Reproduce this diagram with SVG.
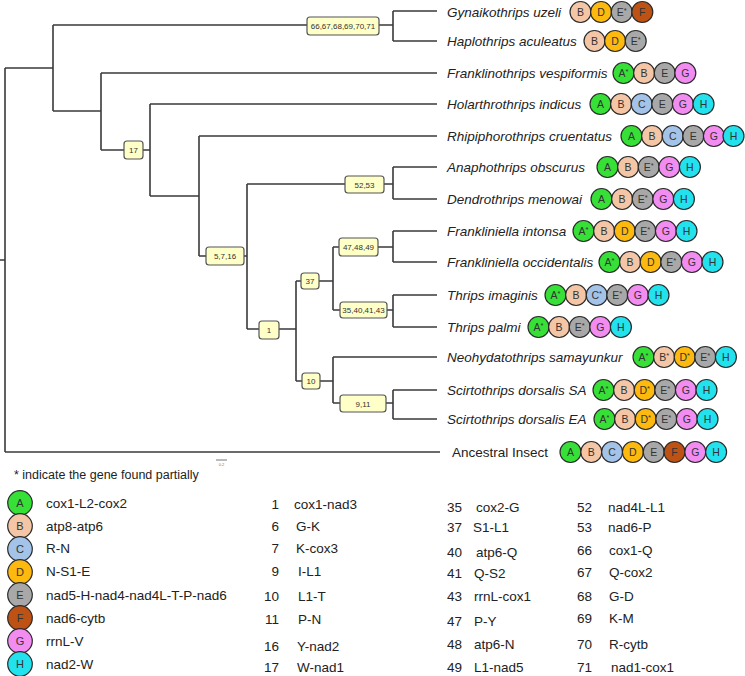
<svg xmlns="http://www.w3.org/2000/svg" width="745" height="676" viewBox="0 0 745 676">
<style>
.br{fill:none;stroke:#3a3a3a;stroke-width:1.6}
.bx{fill:#ffffc8;stroke:#555;stroke-width:1.2}
.bt{font-family:"Liberation Sans",Arial,sans-serif;font-size:8px;fill:#333;text-anchor:middle}
.sp{font-family:"Liberation Sans",Arial,sans-serif;font-size:13.5px;font-style:italic;fill:#222}
.spn{font-family:"Liberation Sans",Arial,sans-serif;font-size:13.5px;fill:#222}
.c{stroke:#2a2a2a;stroke-width:1.2}
.l{font-family:"Liberation Sans",Arial,sans-serif;font-size:10.5px;fill:#333;text-anchor:middle}
.ll{font-family:"Liberation Sans",Arial,sans-serif;font-size:11px;fill:#333;text-anchor:middle}
.st{font-size:7.5px}
.A{fill:#36e036}.B{fill:#f4c6a6}.C{fill:#a3c3e8}.D{fill:#fdb90d}.E{fill:#a8a8a8}.F{fill:#bd5214}.G{fill:#f28cf0}.H{fill:#22e2ee}
.lg{font-family:"Liberation Sans",Arial,sans-serif;font-size:13.5px;fill:#222}
.num{font-family:"Liberation Sans",Arial,sans-serif;font-size:13.5px;fill:#222;text-anchor:end}
</style>
<g id="connectors">
<path class="br" d="M0,260H5M5,68V452M5,68H53M53,25V111M53,25H307M379,25H393M393,11V41M393,11H437M393,41H437"/>
<path class="br" d="M53,111H101M101,73V150M101,73H437M101,150H124M143,150H150M150,104V196M150,104H437M150,196H199M199,136V256M199,136H437M199,256H206M244,256H247M247,184V329"/>
<path class="br" d="M247,184H345M384,184H393M393,167V199M393,167H437M393,199H437"/>
<path class="br" d="M247,329H259M279,329H296M296,281V381M296,281H301M319,281H333M333,247V310M333,247H339M378,247H393M393,231V262M393,231H437M393,262H437M333,310H340M387,310H393M393,295V327M393,295H437M393,327H437"/>
<path class="br" d="M296,381H302M320,381H333M333,357V403M333,357H437M333,403H340M386,403H393M393,390V419M393,390H437M393,419H437"/>
<path class="br" d="M5,452H440"/>
<path d="M216,460H227" stroke="#777" stroke-width="1"/>
<text x="221.5" y="466" font-family="Liberation Sans,sans-serif" font-size="4" fill="#777" text-anchor="middle">0.2</text>
</g>
<g id="n-66"><rect class="bx" x="307" y="17" width="72" height="18" rx="3"/><text class="bt" x="343" y="29">66,67,68,69,70,71</text></g>
<g id="n-17"><rect class="bx" x="124" y="141" width="19" height="18" rx="3"/><text class="bt" x="133.5" y="153">17</text></g>
<g id="n-5"><rect class="bx" x="206" y="247" width="38" height="18" rx="3"/><text class="bt" x="225" y="259">5,7,16</text></g>
<g id="n-52"><rect class="bx" x="345" y="176" width="39" height="17" rx="3"/><text class="bt" x="364.5" y="187.5">52,53</text></g>
<g id="n-1"><rect class="bx" x="259" y="321" width="20" height="18" rx="3"/><text class="bt" x="269" y="333">1</text></g>
<g id="n-37"><rect class="bx" x="301" y="273" width="18" height="16" rx="3"/><text class="bt" x="310" y="284">37</text></g>
<g id="n-47"><rect class="bx" x="339" y="238" width="39" height="18" rx="3"/><text class="bt" x="358.5" y="250">47,48,49</text></g>
<g id="n-35"><rect class="bx" x="340" y="302" width="47" height="16" rx="3"/><text class="bt" x="363.5" y="313">35,40,41,43</text></g>
<g id="n-10"><rect class="bx" x="302" y="373" width="18" height="16" rx="3"/><text class="bt" x="311" y="384">10</text></g>
<g id="n-9"><rect class="bx" x="340" y="395" width="46" height="17" rx="3"/><text class="bt" x="363" y="406.5">9,11</text></g>

<g id="sp-gynaikothrips"><text class="sp" x="447" y="16.5">Gynaikothrips uzeli</text>
<circle class="c B" cx="580.5" cy="12" r="10.5"/><text class="l" x="580.5" y="15.8">B</text>
<circle class="c D" cx="601.1" cy="12" r="10.5"/><text class="l" x="601.1" y="15.8">D</text>
<circle class="c E" cx="621.7" cy="12" r="10.5"/><text class="l" x="621.7" y="15.8">E<tspan class="st" dy="-3">*</tspan></text>
<circle class="c F" cx="642.3" cy="12" r="10.5"/><text class="l" x="642.3" y="15.8">F</text></g>

<g id="sp-haplothrips"><text class="sp" x="447" y="45.5">Haplothrips aculeatus</text>
<circle class="c B" cx="594.5" cy="41" r="10.5"/><text class="l" x="594.5" y="44.8">B</text>
<circle class="c D" cx="615.1" cy="41" r="10.5"/><text class="l" x="615.1" y="44.8">D</text>
<circle class="c E" cx="635.7" cy="41" r="10.5"/><text class="l" x="635.7" y="44.8">E<tspan class="st" dy="-3">*</tspan></text></g>

<g id="sp-franklinothrips"><text class="sp" x="447" y="77.5">Franklinothrips vespiformis</text>
<circle class="c A" cx="623.5" cy="73" r="10.5"/><text class="l" x="623.5" y="76.8">A<tspan class="st" dy="-3">*</tspan></text>
<circle class="c B" cx="644.1" cy="73" r="10.5"/><text class="l" x="644.1" y="76.8">B</text>
<circle class="c E" cx="664.7" cy="73" r="10.5"/><text class="l" x="664.7" y="76.8">E</text>
<circle class="c G" cx="685.3" cy="73" r="10.5"/><text class="l" x="685.3" y="76.8">G</text></g>

<g id="sp-holarthrothrips"><text class="sp" x="447" y="108.5">Holarthrothrips indicus</text>
<circle class="c A" cx="600.5" cy="104" r="10.5"/><text class="l" x="600.5" y="107.8">A</text>
<circle class="c B" cx="621.1" cy="104" r="10.5"/><text class="l" x="621.1" y="107.8">B</text>
<circle class="c C" cx="641.7" cy="104" r="10.5"/><text class="l" x="641.7" y="107.8">C</text>
<circle class="c E" cx="662.3" cy="104" r="10.5"/><text class="l" x="662.3" y="107.8">E</text>
<circle class="c G" cx="682.9" cy="104" r="10.5"/><text class="l" x="682.9" y="107.8">G</text>
<circle class="c H" cx="703.5" cy="104" r="10.5"/><text class="l" x="703.5" y="107.8">H</text></g>

<g id="sp-rhipiphorothrips"><text class="sp" x="447" y="140.5">Rhipiphorothrips cruentatus</text>
<circle class="c A" cx="631.5" cy="136" r="10.5"/><text class="l" x="631.5" y="139.8">A</text>
<circle class="c B" cx="652.1" cy="136" r="10.5"/><text class="l" x="652.1" y="139.8">B</text>
<circle class="c C" cx="672.7" cy="136" r="10.5"/><text class="l" x="672.7" y="139.8">C</text>
<circle class="c E" cx="693.3" cy="136" r="10.5"/><text class="l" x="693.3" y="139.8">E</text>
<circle class="c G" cx="713.9" cy="136" r="10.5"/><text class="l" x="713.9" y="139.8">G</text>
<circle class="c H" cx="733.5" cy="136" r="10.5"/><text class="l" x="733.5" y="139.8">H</text></g>

<g id="sp-anaphothrips"><text class="sp" x="447" y="171.5">Anaphothrips obscurus</text>
<circle class="c A" cx="607.5" cy="167" r="10.5"/><text class="l" x="607.5" y="170.8">A</text>
<circle class="c B" cx="628.1" cy="167" r="10.5"/><text class="l" x="628.1" y="170.8">B</text>
<circle class="c E" cx="648.7" cy="167" r="10.5"/><text class="l" x="648.7" y="170.8">E<tspan class="st" dy="-3">*</tspan></text>
<circle class="c G" cx="669.3" cy="167" r="10.5"/><text class="l" x="669.3" y="170.8">G</text>
<circle class="c H" cx="689.9" cy="167" r="10.5"/><text class="l" x="689.9" y="170.8">H</text></g>

<g id="sp-dendrothrips"><text class="sp" x="447" y="203.5">Dendrothrips menowai</text>
<circle class="c A" cx="601.5" cy="199" r="10.5"/><text class="l" x="601.5" y="202.8">A</text>
<circle class="c B" cx="622.1" cy="199" r="10.5"/><text class="l" x="622.1" y="202.8">B</text>
<circle class="c E" cx="642.7" cy="199" r="10.5"/><text class="l" x="642.7" y="202.8">E<tspan class="st" dy="-3">*</tspan></text>
<circle class="c G" cx="663.3" cy="199" r="10.5"/><text class="l" x="663.3" y="202.8">G</text>
<circle class="c H" cx="683.9" cy="199" r="10.5"/><text class="l" x="683.9" y="202.8">H</text></g>

<g id="sp-f-intonsa"><text class="sp" x="447" y="235.5">Frankliniella intonsa</text>
<circle class="c A" cx="583.5" cy="231" r="10.5"/><text class="l" x="583.5" y="234.8">A<tspan class="st" dy="-3">*</tspan></text>
<circle class="c B" cx="604.1" cy="231" r="10.5"/><text class="l" x="604.1" y="234.8">B</text>
<circle class="c D" cx="624.7" cy="231" r="10.5"/><text class="l" x="624.7" y="234.8">D</text>
<circle class="c E" cx="645.3" cy="231" r="10.5"/><text class="l" x="645.3" y="234.8">E<tspan class="st" dy="-3">*</tspan></text>
<circle class="c G" cx="665.9" cy="231" r="10.5"/><text class="l" x="665.9" y="234.8">G</text>
<circle class="c H" cx="686.5" cy="231" r="10.5"/><text class="l" x="686.5" y="234.8">H</text></g>

<g id="sp-f-occidentalis"><text class="sp" x="447" y="266.5">Frankliniella occidentalis</text>
<circle class="c A" cx="609.5" cy="262" r="10.5"/><text class="l" x="609.5" y="265.8">A<tspan class="st" dy="-3">*</tspan></text>
<circle class="c B" cx="630.1" cy="262" r="10.5"/><text class="l" x="630.1" y="265.8">B</text>
<circle class="c D" cx="650.7" cy="262" r="10.5"/><text class="l" x="650.7" y="265.8">D</text>
<circle class="c E" cx="671.3" cy="262" r="10.5"/><text class="l" x="671.3" y="265.8">E<tspan class="st" dy="-3">*</tspan></text>
<circle class="c G" cx="691.9" cy="262" r="10.5"/><text class="l" x="691.9" y="265.8">G</text>
<circle class="c H" cx="712.5" cy="262" r="10.5"/><text class="l" x="712.5" y="265.8">H</text></g>

<g id="sp-t-imaginis"><text class="sp" x="447" y="299.5">Thrips imaginis</text>
<circle class="c A" cx="555.5" cy="295" r="10.5"/><text class="l" x="555.5" y="298.8">A<tspan class="st" dy="-3">*</tspan></text>
<circle class="c B" cx="576.1" cy="295" r="10.5"/><text class="l" x="576.1" y="298.8">B</text>
<circle class="c C" cx="596.7" cy="295" r="10.5"/><text class="l" x="596.7" y="298.8">C<tspan class="st" dy="-3">*</tspan></text>
<circle class="c E" cx="617.3" cy="295" r="10.5"/><text class="l" x="617.3" y="298.8">E<tspan class="st" dy="-3">*</tspan></text>
<circle class="c G" cx="637.9" cy="295" r="10.5"/><text class="l" x="637.9" y="298.8">G</text>
<circle class="c H" cx="658.5" cy="295" r="10.5"/><text class="l" x="658.5" y="298.8">H</text></g>

<g id="sp-t-palmi"><text class="sp" x="447" y="331.5">Thrips palmi</text>
<circle class="c A" cx="538.5" cy="327" r="10.5"/><text class="l" x="538.5" y="330.8">A<tspan class="st" dy="-3">*</tspan></text>
<circle class="c B" cx="559.1" cy="327" r="10.5"/><text class="l" x="559.1" y="330.8">B</text>
<circle class="c E" cx="579.7" cy="327" r="10.5"/><text class="l" x="579.7" y="330.8">E<tspan class="st" dy="-3">*</tspan></text>
<circle class="c G" cx="600.3" cy="327" r="10.5"/><text class="l" x="600.3" y="330.8">G</text>
<circle class="c H" cx="620.9" cy="327" r="10.5"/><text class="l" x="620.9" y="330.8">H</text></g>

<g id="sp-neohydatothrips"><text class="sp" x="447" y="361.5">Neohydatothrips samayunkur</text>
<circle class="c A" cx="643.5" cy="357" r="10.5"/><text class="l" x="643.5" y="360.8">A<tspan class="st" dy="-3">*</tspan></text>
<circle class="c B" cx="664.1" cy="357" r="10.5"/><text class="l" x="664.1" y="360.8">B<tspan class="st" dy="-3">*</tspan></text>
<circle class="c D" cx="684.7" cy="357" r="10.5"/><text class="l" x="684.7" y="360.8">D<tspan class="st" dy="-3">*</tspan></text>
<circle class="c E" cx="705.3" cy="357" r="10.5"/><text class="l" x="705.3" y="360.8">E<tspan class="st" dy="-3">*</tspan></text>
<circle class="c H" cx="725.9" cy="357" r="10.5"/><text class="l" x="725.9" y="360.8">H</text></g>

<g id="sp-s-dorsalis-sa"><text class="sp" x="447" y="394.5">Scirtothrips dorsalis SA</text>
<circle class="c A" cx="603.5" cy="390" r="10.5"/><text class="l" x="603.5" y="393.8">A<tspan class="st" dy="-3">*</tspan></text>
<circle class="c B" cx="624.1" cy="390" r="10.5"/><text class="l" x="624.1" y="393.8">B</text>
<circle class="c D" cx="644.7" cy="390" r="10.5"/><text class="l" x="644.7" y="393.8">D<tspan class="st" dy="-3">*</tspan></text>
<circle class="c E" cx="665.3" cy="390" r="10.5"/><text class="l" x="665.3" y="393.8">E<tspan class="st" dy="-3">*</tspan></text>
<circle class="c G" cx="685.9" cy="390" r="10.5"/><text class="l" x="685.9" y="393.8">G</text>
<circle class="c H" cx="706.5" cy="390" r="10.5"/><text class="l" x="706.5" y="393.8">H</text></g>

<g id="sp-s-dorsalis-ea"><text class="sp" x="447" y="423.5">Scirtothrips dorsalis EA</text>
<circle class="c A" cx="604.5" cy="419" r="10.5"/><text class="l" x="604.5" y="422.8">A<tspan class="st" dy="-3">*</tspan></text>
<circle class="c B" cx="625.1" cy="419" r="10.5"/><text class="l" x="625.1" y="422.8">B</text>
<circle class="c D" cx="645.7" cy="419" r="10.5"/><text class="l" x="645.7" y="422.8">D<tspan class="st" dy="-3">*</tspan></text>
<circle class="c E" cx="666.3" cy="419" r="10.5"/><text class="l" x="666.3" y="422.8">E<tspan class="st" dy="-3">*</tspan></text>
<circle class="c G" cx="686.9" cy="419" r="10.5"/><text class="l" x="686.9" y="422.8">G</text>
<circle class="c H" cx="707.5" cy="419" r="10.5"/><text class="l" x="707.5" y="422.8">H</text></g>

<g id="sp-ancestral"><text class="spn" x="452" y="457">Ancestral Insect</text>
<circle class="c A" cx="570.5" cy="452" r="10.5"/><text class="l" x="570.5" y="455.8">A</text>
<circle class="c B" cx="591.3" cy="452" r="10.5"/><text class="l" x="591.3" y="455.8">B</text>
<circle class="c C" cx="612.1" cy="452" r="10.5"/><text class="l" x="612.1" y="455.8">C</text>
<circle class="c D" cx="632.9" cy="452" r="10.5"/><text class="l" x="632.9" y="455.8">D</text>
<circle class="c E" cx="653.7" cy="452" r="10.5"/><text class="l" x="653.7" y="455.8">E</text>
<circle class="c F" cx="674.5" cy="452" r="10.5"/><text class="l" x="674.5" y="455.8">F</text>
<circle class="c G" cx="695.3" cy="452" r="10.5"/><text class="l" x="695.3" y="455.8">G</text>
<circle class="c H" cx="716.1" cy="452" r="10.5"/><text class="l" x="716.1" y="455.8">H</text></g>

<g id="legend">
<text x="14" y="479" font-family="Liberation Sans,Arial,sans-serif" font-size="12.5" fill="#222">* indicate the gene found partially</text>
<circle class="c A" cx="20" cy="503" r="12.3"/><text class="ll" x="20" y="507">A</text><text class="lg" x="46" y="508">cox1-L2-cox2</text>
<circle class="c B" cx="20" cy="526" r="12.3"/><text class="ll" x="20" y="530">B</text><text class="lg" x="46" y="531">atp8-atp6</text>
<circle class="c C" cx="20" cy="549" r="12.3"/><text class="ll" x="20" y="553">C</text><text class="lg" x="46" y="553">R-N</text>
<circle class="c D" cx="20" cy="572" r="12.3"/><text class="ll" x="20" y="576">D</text><text class="lg" x="46" y="576">N-S1-E</text>
<circle class="c E" cx="20" cy="595" r="12.3"/><text class="ll" x="20" y="599">E</text><text class="lg" x="46" y="600">nad5-H-nad4-nad4L-T-P-nad6</text>
<circle class="c F" cx="20" cy="618" r="12.3"/><text class="ll" x="20" y="622">F</text><text class="lg" x="46" y="623">nad6-cytb</text>
<circle class="c G" cx="20" cy="641" r="12.3"/><text class="ll" x="20" y="645">G</text><text class="lg" x="46" y="646">rrnL-V</text>
<circle class="c H" cx="20" cy="664" r="12.3"/><text class="ll" x="20" y="668">H</text><text class="lg" x="46" y="669">nad2-W</text>

<text class="num" x="279" y="509">1</text><text class="lg" x="294" y="509">cox1-nad3</text>
<text class="num" x="279" y="531">6</text><text class="lg" x="296" y="531">G-K</text>
<text class="num" x="279" y="553">7</text><text class="lg" x="296" y="553">K-cox3</text>
<text class="num" x="279" y="576">9</text><text class="lg" x="298" y="576">I-L1</text>
<text class="num" x="279" y="601">10</text><text class="lg" x="298" y="601">L1-T</text>
<text class="num" x="279" y="624">11</text><text class="lg" x="298" y="624">P-N</text>
<text class="num" x="279" y="651">16</text><text class="lg" x="297" y="651">Y-nad2</text>
<text class="num" x="279" y="672">17</text><text class="lg" x="297" y="672">W-nad1</text>

<text class="num" x="462" y="512">35</text><text class="lg" x="476" y="512">cox2-G</text>
<text class="num" x="462" y="532">37</text><text class="lg" x="473" y="532">S1-L1</text>
<text class="num" x="462" y="557">40</text><text class="lg" x="476" y="557">atp6-Q</text>
<text class="num" x="462" y="578">41</text><text class="lg" x="474" y="578">Q-S2</text>
<text class="num" x="462" y="601">43</text><text class="lg" x="474" y="601">rrnL-cox1</text>
<text class="num" x="462" y="626">47</text><text class="lg" x="474" y="626">P-Y</text>
<text class="num" x="462" y="649">48</text><text class="lg" x="474" y="649">atp6-N</text>
<text class="num" x="462" y="672">49</text><text class="lg" x="474" y="672">L1-nad5</text>

<text class="num" x="592" y="512">52</text><text class="lg" x="608" y="512">nad4L-L1</text>
<text class="num" x="592" y="532">53</text><text class="lg" x="608" y="532">nad6-P</text>
<text class="num" x="592" y="555">66</text><text class="lg" x="609" y="555">cox1-Q</text>
<text class="num" x="592" y="577">67</text><text class="lg" x="609" y="577">Q-cox2</text>
<text class="num" x="592" y="601">68</text><text class="lg" x="609" y="601">G-D</text>
<text class="num" x="592" y="623">69</text><text class="lg" x="609" y="623">K-M</text>
<text class="num" x="592" y="649">70</text><text class="lg" x="609" y="649">R-cytb</text>
<text class="num" x="592" y="672">71</text><text class="lg" x="611" y="672">nad1-cox1</text>
</g>
</svg>
